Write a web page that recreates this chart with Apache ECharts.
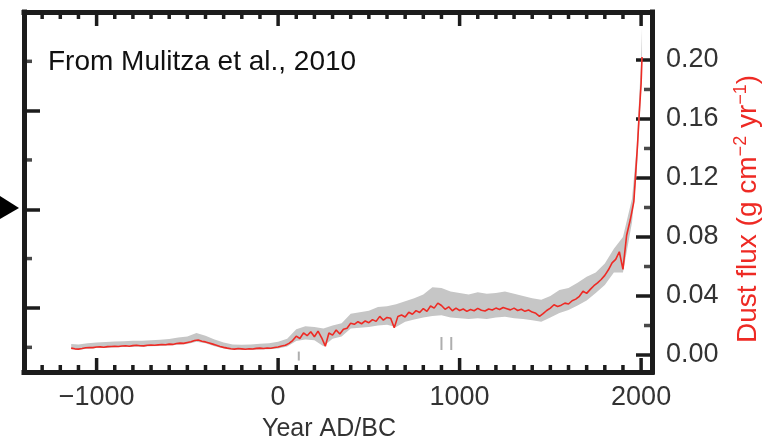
<!DOCTYPE html>
<html>
<head>
<meta charset="utf-8">
<title>Dust flux - Mulitza et al. 2010</title>
<script src="https://cdn.jsdelivr.net/npm/echarts@6/dist/echarts.min.js"></script>
<style>
  html, body { margin: 0; padding: 0; background: #fff; }
  #chart { width: 770px; height: 448px; }
</style>
</head>
<body>
<div id="chart"></div>
<script>
// red record (g cm-2 yr-1)
const years = [
  -1140, -1120, -1100, -1080, -1060, -1040, -1020,
  -1000, -980, -960, -940, -920, -900, -880, -860, -840, -820,
  -800, -780, -760, -740, -720, -700, -680, -660, -640, -620,
  -600, -580, -560, -540, -520, -500, -480, -460, -440, -420,
  -400, -380, -360, -340, -320, -300, -280, -260, -240, -220,
  -200, -180, -160, -140, -120, -100, -80, -60, -40, -20,
  0, 20, 40, 60, 80, 100, 120, 140, 160, 180,
  200, 220, 240, 260, 280, 300, 320, 340, 360, 380,
  400, 420, 440, 460, 480, 500, 520, 540, 560, 580,
  600, 620, 640, 660, 680, 700, 720, 740, 760, 780,
  800, 820, 840, 860, 880, 900, 920, 940, 960, 980,
  1000, 1020, 1040, 1060, 1080, 1100, 1120, 1140, 1160, 1180,
  1200, 1220, 1240, 1260, 1280, 1300, 1320, 1340, 1360, 1380,
  1400, 1420, 1440, 1460, 1480, 1500, 1520, 1540, 1560, 1580,
  1600, 1620, 1640, 1660, 1680, 1700, 1720, 1740, 1760, 1780,
  1800, 1820, 1840, 1860, 1880, 1900, 1920, 1940, 1960, 1980,
  1990, 2000, 2005
]
const flux = [
  0.0047, 0.0042, 0.0040, 0.0044, 0.0049, 0.0051, 0.0050,
  0.0054, 0.0055, 0.0053, 0.0057, 0.0058, 0.0060, 0.0058, 0.0061, 0.0063, 0.0060,
  0.0064, 0.0066, 0.0063, 0.0062, 0.0066, 0.0068, 0.0066, 0.0069, 0.0071, 0.0070,
  0.0074, 0.0072, 0.0078, 0.0081, 0.0079, 0.0085, 0.0090, 0.0098, 0.0102, 0.0094,
  0.0089, 0.0082, 0.0074, 0.0066, 0.0058, 0.0052, 0.0047, 0.0043, 0.0040, 0.0044,
  0.0042, 0.0039, 0.0043, 0.0041, 0.0045, 0.0047, 0.0044, 0.0048, 0.0046, 0.0051,
  0.0055, 0.0061, 0.0066, 0.0079, 0.0098, 0.0128, 0.0112, 0.0150, 0.0131, 0.0158,
  0.0124, 0.0162, 0.0117, 0.0060, 0.0149, 0.0135, 0.0170, 0.0142, 0.0175, 0.0181,
  0.0216, 0.0208, 0.0226, 0.0212, 0.0231, 0.0219, 0.0240, 0.0228, 0.0262, 0.0236,
  0.0255, 0.0249, 0.0185, 0.0262, 0.0271, 0.0258, 0.0290, 0.0276, 0.0301, 0.0288,
  0.0315, 0.0296, 0.0332, 0.0318, 0.0352, 0.0336, 0.0310, 0.0327, 0.0300, 0.0318,
  0.0302, 0.0312, 0.0296, 0.0308, 0.0300, 0.0316, 0.0303, 0.0298, 0.0312, 0.0305,
  0.0318, 0.0309, 0.0322, 0.0314, 0.0306, 0.0318, 0.0302, 0.0310, 0.0296, 0.0305,
  0.0291, 0.0283, 0.0262, 0.0280, 0.0302, 0.0318, 0.0341, 0.0329, 0.0338, 0.0352,
  0.0346, 0.0368, 0.0379, 0.0398, 0.0432, 0.0418, 0.0445, 0.0470, 0.0489, 0.0512,
  0.0540, 0.0578, 0.0625, 0.0648, 0.0700, 0.0580, 0.0810, 0.0915, 0.1040, 0.1420,
  0.1640, 0.1840, 0.2020
]

// grey uncertainty envelope
const bandYears = [
  -1140, -1100, -1050, -1000, -950, -900, -850, -800, -750, -700,
  -650, -600, -550, -500, -450, -400, -350, -300, -250, -200,
  -150, -100, -50, 0, 50, 100, 150, 200, 250, 300,
  350, 400, 450, 500, 550, 600, 650, 700, 750, 800,
  850, 900, 950, 1000, 1050, 1100, 1150, 1200, 1250, 1300,
  1350, 1400, 1450, 1500, 1550, 1600, 1650, 1700, 1750, 1800,
  1850, 1900, 1950, 1975, 2000, 2005
]
const bandHigh = [
  0.0075, 0.0072, 0.0080, 0.0085, 0.0088, 0.0092, 0.0093, 0.0096, 0.0097, 0.0100,
  0.0104, 0.0108, 0.0118, 0.0126, 0.0150, 0.0130, 0.0105, 0.0085, 0.0072, 0.0070,
  0.0072, 0.0076, 0.0080, 0.0090, 0.0110, 0.0175, 0.0195, 0.0190, 0.0180, 0.0200,
  0.0215, 0.0280, 0.0290, 0.0300, 0.0325, 0.0330, 0.0345, 0.0365, 0.0385, 0.0410,
  0.0460, 0.0455, 0.0430, 0.0420, 0.0410, 0.0425, 0.0415, 0.0420, 0.0430, 0.0415,
  0.0400, 0.0385, 0.0375, 0.0400, 0.0440, 0.0455, 0.0490, 0.0530, 0.0560, 0.0620,
  0.0720, 0.0800, 0.1060, 0.1400, 0.2000, 0.2220
]
const bandLow = [
  0.0040, 0.0036, 0.0042, 0.0047, 0.0048, 0.0052, 0.0054, 0.0056, 0.0056, 0.0060,
  0.0062, 0.0064, 0.0069, 0.0075, 0.0090, 0.0080, 0.0060, 0.0044, 0.0034, 0.0034,
  0.0034, 0.0038, 0.0040, 0.0045, 0.0058, 0.0095, 0.0105, 0.0100, 0.0060, 0.0110,
  0.0125, 0.0180, 0.0185, 0.0190, 0.0200, 0.0205, 0.0190, 0.0225, 0.0240, 0.0255,
  0.0265, 0.0270, 0.0255, 0.0250, 0.0245, 0.0250, 0.0245, 0.0255, 0.0260, 0.0250,
  0.0245, 0.0235, 0.0225, 0.0255, 0.0285, 0.0305, 0.0335, 0.0370, 0.0420, 0.0475,
  0.0560, 0.0560, 0.0900, 0.1220, 0.1780, 0.1980
]

// small grey age-control marks
const markYears = [114, 900, 954]
const markFlux = [-0.0007, 0.0078, 0.0078]

// ticks
const majorYears = [-1000, 0, 1000, 2000]
const minorYears = [
  -1300, -1200, -1100, -900, -800, -700, -600, -500, -400, -300, -200, -100,
  100, 200, 300, 400, 500, 600, 700, 800, 900,
  1100, 1200, 1300, 1400, 1500, 1600, 1700, 1800, 1900
]
const majorFlux = [0, 0.04, 0.08, 0.12, 0.16, 0.2]
const minorFlux = [0.02, 0.06, 0.1, 0.14, 0.18]
const leftMajor = [1, 3, 5]
const leftMinor = [0.2, 2, 4, 6]

const FONT = '"Liberation Sans", Arial, sans-serif'
const FRAME = '#1c1c1c'
const RED = '#ee2a24'
const X_MIN = -1400
const X_MAX = 2060
const Y_MIN = -0.0115
const Y_MAX = 0.2325

const chart = echarts.init(document.getElementById('chart'))

const frameLine = { show: true, onZero: false, lineStyle: { color: FRAME, width: 5, cap: 'square' } }
const tick = (len, values) => ({
  show: true, inside: true, length: len, customValues: values,
  lineStyle: { color: FRAME, width: 3.5 }
})

// band polygon: upper edge left->right, lower edge back
const renderBand = (params, api) => {
  if (params.dataIndex !== 0) return null
  const upper = bandYears.map((y, i) => api.coord([y, bandHigh[i]]))
  const lower = bandYears.map((y, i) => api.coord([y, bandLow[i]])).reverse()
  return {
    type: 'polygon',
    shape: { points: upper.concat(lower) },
    style: { fill: '#c6c6c6' },
    silent: true
  }
}

// short inward ticks on the side frames, drawn as thin bars
const minorTicks = (points, size, offset, yAxisIndex) => ({
  type: 'scatter', xAxisIndex: 0, yAxisIndex, silent: true, clip: false, z: 5,
  symbol: 'rect', symbolSize: size, symbolOffset: offset,
  itemStyle: { color: FRAME },
  data: points
})

const option = {
  animation: false,
  grid: { left: 24, right: 108, top: 12, bottom: 76 },
  xAxis: [
    { type: 'value', min: X_MIN, max: X_MAX, position: 'bottom', splitLine: { show: false },
      axisLine: frameLine, axisTick: { show: false },
      axisLabel: {
        customValues: majorYears, margin: 12, fontSize: 27, color: '#333', fontFamily: FONT,
        formatter: v => (v < 0 ? '\u2212' + Math.abs(v) : String(v))
      },
      name: 'Year AD/BC', nameLocation: 'middle', nameGap: 45,
      nameTextStyle: { fontSize: 25, color: '#333', fontFamily: FONT, padding: [0, 18, 0, 0] } },
    { type: 'value', min: X_MIN, max: X_MAX, position: 'top', splitLine: { show: false },
      axisLine: frameLine, axisTick: { show: false }, axisLabel: { show: false } }
  ],
  yAxis: [
    { type: 'value', min: Y_MIN, max: Y_MAX, position: 'right', splitLine: { show: false },
      axisLine: frameLine, axisTick: tick(16, majorFlux),
      axisLabel: {
        customValues: majorFlux, margin: 14, fontSize: 27, color: '#333', fontFamily: FONT,
        formatter: v => v.toFixed(2)
      },
      name: '{b|Dust flux (g cm}{s|\u22122}{b| yr}{s|\u22121}{b|)}',
      nameLocation: 'middle', nameRotate: 90, nameGap: 80,
      nameTextStyle: {
        padding: [0, 34, 0, 0],
        rich: {
          b: { fontSize: 28, color: RED, fontFamily: FONT, lineHeight: 32 },
          s: { fontSize: 18, color: RED, fontFamily: FONT, lineHeight: 18, verticalAlign: 'top' }
        }
      } },
    { type: 'value', min: -0.3, max: 7, position: 'left', splitLine: { show: false },
      axisLine: frameLine, axisTick: tick(16, leftMajor), axisLabel: { show: false } }
  ],
  series: [
    {
      name: 'band', type: 'custom', xAxisIndex: 0, yAxisIndex: 0,
      renderItem: renderBand, silent: true, z: 1,
      encode: { x: 0, y: [1, 2] },
      data: bandYears.map((y, i) => [y, bandLow[i], bandHigh[i]])
    },
    {
      name: 'Dust flux', type: 'line', xAxisIndex: 0, yAxisIndex: 0, z: 3,
      symbol: 'none', lineStyle: { color: RED, width: 1.6 },
      data: years.map((y, i) => [y, flux[i]])
    },
    {
      name: 'marks', type: 'scatter', xAxisIndex: 0, yAxisIndex: 0, z: 2,
      symbol: 'rect', symbolSize: (v, p) => (p.dataIndex === 0 ? [2, 9] : [2, 13]),
      itemStyle: { color: '#9a9a9a' },
      data: markYears.map((y, i) => [y, markFlux[i]])
    },
    minorTicks(minorFlux.map(v => [X_MAX, v]), [8, 3.5], [-4, 0], 0),
    minorTicks(leftMinor.map(v => [X_MIN, v]), [8, 3.5], [4, 0], 1)
  ],
  graphic: [
    {
      type: 'text', left: 48, top: 48,
      style: { text: 'From Mulitza et al., 2010', fontSize: 28, fontFamily: FONT, fill: '#111' }
    },
    {
      type: 'polygon',
      shape: { points: [[0, 196], [0, 219], [19, 208]] },
      style: { fill: '#000' }
    }
  ]
}

chart.setOption(option)

// year ticks on the bottom and top frame, placed through the chart's own x scale
const yearTickBars = []
const addYearTicks = (list, len) => list.forEach(year => {
  const bottom = chart.convertToPixel({ xAxisIndex: 0, yAxisIndex: 0 }, [year, Y_MIN])
  const top = chart.convertToPixel({ xAxisIndex: 0, yAxisIndex: 0 }, [year, Y_MAX])
  yearTickBars.push(
    { type: 'rect', z: 100, silent: true,
      shape: { x: bottom[0] - 1.75, y: bottom[1] - len, width: 3.5, height: len },
      style: { fill: FRAME } },
    { type: 'rect', z: 100, silent: true,
      shape: { x: top[0] - 1.75, y: top[1], width: 3.5, height: len },
      style: { fill: FRAME } }
  )
})
addYearTicks(minorYears, 7)
addYearTicks(majorYears, 14)
chart.setOption({ graphic: option.graphic.concat(yearTickBars) })

window.addEventListener('resize', () => chart.resize())
</script>
</body>
</html>
